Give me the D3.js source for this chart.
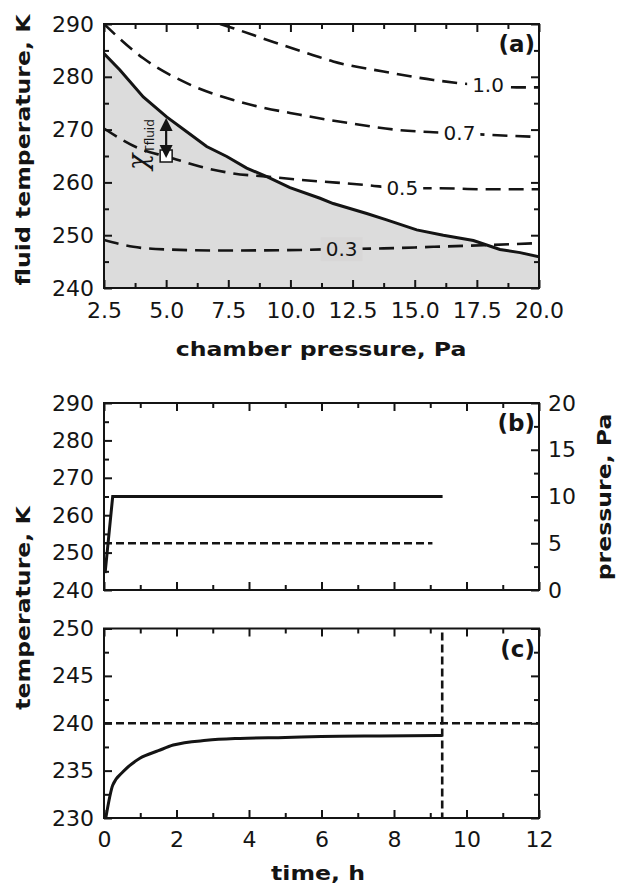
<!DOCTYPE html>
<html><head><meta charset="utf-8">
<script src="https://cdn.jsdelivr.net/npm/d3@7"></script>
<style>body{margin:0;background:#fff}svg{display:block}</style>
</head><body>
<svg id="chart" width="621" height="893"></svg>
<script>
// ---------------- DATA ----------------
// Panel (a): design space, chamber pressure (Pa) vs fluid temperature (K)
const boundaryP = [2.5,3.14,4.08,5.02,5.83,6.63,7.44,8.24,9.05,9.98,11.19,11.72,13.07,13.87,15.08,16.15,17.36,18.43,19.24,20];
const boundaryT = [284.4,281.3,276.2,272.4,269.6,266.8,264.9,262.7,261.1,259.0,257.0,256.0,254.1,252.9,251.0,250.0,249.0,247.3,246.7,245.9];
const contourNames = ["1.0","0.7","0.5","0.3"];
const c10P = [7.17,7.7,9.31,10.92,11.72,13.74,15.75,17.95,19.1,20];
const c10T = [290,289.2,286.6,284.1,282.9,281.0,279.4,278.3,278.0,278.0];
const c07P = [2.5,4.08,5.83,7.7,10.39,12.4,14.4,15.75,16.8,18.03,20];
const c07T = [290,283.5,278.8,275.6,272.8,271.2,269.9,269.5,269.3,269.0,268.6];
const c05P = [2.5,4.08,5.02,6.36,7.7,9.05,10.39,13.07,14.5,16,17.75,20];
const c05T = [270.2,266.1,264.9,263.0,261.7,261.1,260.5,259.5,258.9,258.9,258.7,258.7];
const c03P = [2.5,3.68,5.02,7.03,10.39,12.06,13.74,15.75,17.76,20];
const c03T = [249.1,247.8,247.3,247.1,247.2,247.4,247.5,247.8,248.1,248.5];
const contourLabelP = [17.95,16.8,14.5,12.06];
const contourLabelT = [278.4,269.3,258.9,247.4];
const chiP = 5.0, chiTopT = 272.2, chiBottomT = 265.0;
const opPointP = 5.0, opPointT = 265.0;
const ticksPA = [2.5,5,7.5,10,12.5,15,17.5,20];
const ticksTA = [240,250,260,270,280,290];

// Panel (b): fluid temperature (K, solid) and chamber pressure (Pa, dashed) vs time (h)
const fluidTime = [0.03,0.24,9.34];
const fluidTemp = [244.5,265,265];
const pressTime = [0,9.06];
const pressVal = [5,5];
const ticksTB = [240,250,260,270,280,290];
const ticksPB = [0,5,10,15,20];

// Panel (c): product temperature (K) vs time (h)
const prodTime = [0.05,0.24,0.53,0.99,1.5,1.91,2.83,3.75,5,6,7.6,9.34];
const prodTemp = [230,233.45,234.9,236.3,237.1,237.7,238.2,238.4,238.5,238.6,238.66,238.7];
const critTemp = 240;
const dryingEnd = 9.33;
const ticksTC = [230,235,240,245,250];
const ticksTime = [0,2,4,6,8,10,12];

// ---------------- DRAWING ----------------
const svg = d3.select("#chart");
const FONT = "'DejaVu Sans', Verdana, sans-serif";
const INK = "#141414";
const GRAY = "#dcdcdc";
const L = 104, R = 539, W = R - L;

function mids(arr){ const m=[]; for(let i=0;i<arr.length-1;i++) m.push((arr[i]+arr[i+1])/2); return m; }

function axes(g, xs, ys, h, o){
  const add = (axis, tr) => {
    const a = g.append("g").attr("transform", tr).call(axis);
    a.select(".domain").remove();
    a.selectAll("line").attr("stroke", INK).attr("stroke-width", 2);
    a.selectAll("text").style("font", `22px ${FONT}`).attr("fill", INK);
    return a;
  };
  const xMinor = mids(o.xMajor), yMinor = mids(o.yMajor);
  add(d3.axisBottom(xs).tickValues(o.xMajor).tickSize(-8).tickPadding(o.xPad||14)
      .tickFormat(o.xFmt ? o.xFmt : ""), `translate(0,${h})`);
  add(d3.axisBottom(xs).tickValues(xMinor).tickSize(-5).tickFormat(""), `translate(0,${h})`);
  add(d3.axisTop(xs).tickValues(o.xMajor).tickSize(-8).tickFormat(""), "translate(0,0)");
  add(d3.axisTop(xs).tickValues(xMinor).tickSize(-5).tickFormat(""), "translate(0,0)");
  add(d3.axisLeft(ys).tickValues(o.yMajor).tickSize(-8).tickPadding(10).tickFormat(d3.format("d")), "translate(0,0)");
  add(d3.axisLeft(ys).tickValues(yMinor).tickSize(-5).tickFormat(""), "translate(0,0)");
  const yr = o.yR || ys, rMaj = o.yRMajor || o.yMajor;
  add(d3.axisRight(yr).tickValues(rMaj).tickSize(-8).tickPadding(9)
      .tickFormat(o.yR ? d3.format("d") : ""), `translate(${W},0)`);
  add(d3.axisRight(yr).tickValues(mids(rMaj)).tickSize(-5).tickFormat(""), `translate(${W},0)`);
  g.append("rect").attr("width", W).attr("height", h).attr("fill", "none")
    .attr("stroke", INK).attr("stroke-width", 2);
}

function title(x, y, str, rot){
  svg.append("text")
    .attr("transform", `translate(${x},${y}) rotate(${rot}) scale(1.18,1)`)
    .attr("text-anchor", "middle").attr("fill", INK)
    .style("font", `bold 20px ${FONT}`).text(str);
}
function panelTag(g, str){
  g.append("text").attr("x", W - 4).attr("y", 28).attr("text-anchor", "end")
    .attr("fill", INK).style("font", `bold 23px ${FONT}`).text(str);
}
function clipFor(id, h){
  svg.append("defs").append("clipPath").attr("id", id)
    .append("rect").attr("width", W).attr("height", h);
}

// ---------- Panel (a) ----------
const topA = 24, hA = 264;
const gA = svg.append("g").attr("transform", `translate(${L},${topA})`);
clipFor("clipA", hA);
const xA = d3.scaleLinear([2.5, 20], [0, W]);
const yA = d3.scaleLinear([240, 290], [hA, 0]);
const pA = gA.append("g").attr("clip-path", "url(#clipA)");
const boundary = boundaryP.map((p, i) => [p, boundaryT[i]]);
pA.append("path").datum(boundary)
  .attr("d", d3.area().x(d => xA(d[0])).y0(hA).y1(d => yA(d[1])))
  .attr("fill", GRAY);
const lineA = d3.line().x(d => xA(d[0])).y(d => yA(d[1])).curve(d3.curveMonotoneX);
const contours = [[c10P, c10T], [c07P, c07T], [c05P, c05T], [c03P, c03T]];
contours.forEach(([ps, ts]) => {
  pA.append("path").datum(ps.map((p, i) => [p, ts[i]]))
    .attr("d", lineA).attr("fill", "none").attr("stroke", INK)
    .attr("stroke-width", 2.6).attr("stroke-dasharray", "15,8");
});
pA.append("path").datum(boundary)
  .attr("d", d3.line().x(d => xA(d[0])).y(d => yA(d[1])))
  .attr("fill", "none").attr("stroke", INK).attr("stroke-width", 3);
const boundaryAt = p => {
  const i = d3.bisectLeft(boundaryP, p);
  if (i <= 0) return boundaryT[0];
  const t = (p - boundaryP[i-1]) / (boundaryP[i] - boundaryP[i-1]);
  return boundaryT[i-1] + t * (boundaryT[i] - boundaryT[i-1]);
};
contourNames.forEach((name, i) => {
  const cx = xA(contourLabelP[i]), cy = yA(contourLabelT[i]);
  const lg = pA.append("g");
  const r = lg.append("rect");
  const t = lg.append("text").attr("x", cx).attr("y", cy).attr("dy", "0.36em")
    .attr("text-anchor", "middle").attr("fill", INK)
    .style("font", `20px ${FONT}`).text(name);
  const bb = t.node().getBBox();
  const below = contourLabelT[i] < boundaryAt(contourLabelP[i]);
  r.attr("x", bb.x - 5).attr("y", bb.y).attr("width", bb.width + 10).attr("height", bb.height)
    .attr("fill", below ? "#d8d7d7" : "#fff");
});
// operating point + arrow
const ax = xA(chiP);
gA.append("rect").attr("x", xA(opPointP) - 6).attr("y", yA(opPointT) - 6)
  .attr("width", 12).attr("height", 12).attr("fill", "#fff")
  .attr("stroke", INK).attr("stroke-width", 1.5);
const yTop = yA(chiTopT), yBot = yA(chiBottomT) + 2;
gA.append("line").attr("x1", ax).attr("x2", ax).attr("y1", yTop + 10).attr("y2", yBot - 10)
  .attr("stroke", INK).attr("stroke-width", 2.2);
gA.append("path").attr("d", `M${ax},${yTop} L${ax-6.5},${yTop+13} L${ax+6.5},${yTop+13} Z`).attr("fill", INK);
gA.append("path").attr("d", `M${ax},${yBot} L${ax-6.5},${yBot-13} L${ax+6.5},${yBot-13} Z`).attr("fill", INK);
const chi = gA.append("text")
  .attr("transform", `translate(${ax - 19},${yA(opPointT) + 14}) rotate(-90)`)
  .attr("fill", INK);
chi.append("tspan").style("font", `italic 27px 'DejaVu Serif', serif`).text("χ");
chi.append("tspan").attr("dy", 7).attr("dx", 1).style("font", `12px ${FONT}`).text("Tfluid");
axes(gA, xA, yA, hA, {xMajor: ticksPA, yMajor: ticksTA, xFmt: d3.format(".1f"), xPad: 14.5});
panelTag(gA, "(a)");
title(30, 150, "fluid temperature, K", -90);
title(321, 356, "chamber pressure, Pa", 0);

// ---------- Panel (b) ----------
const topB = 403, hB = 187;
const gB = svg.append("g").attr("transform", `translate(${L},${topB})`);
clipFor("clipB", hB);
const xB = d3.scaleLinear([0, 12], [0, W]);
const yB = d3.scaleLinear([240, 290], [hB, 0]);
const yBR = d3.scaleLinear([0, 20], [hB, 0]);
const pB = gB.append("g").attr("clip-path", "url(#clipB)");
pB.append("path").datum(pressTime.map((t, i) => [t, pressVal[i]]))
  .attr("d", d3.line().x(d => xB(d[0])).y(d => yBR(d[1])))
  .attr("fill", "none").attr("stroke", INK).attr("stroke-width", 2.6).attr("stroke-dasharray", "8,4");
pB.append("path").datum(fluidTime.map((t, i) => [t, fluidTemp[i]]))
  .attr("d", d3.line().x(d => xB(d[0])).y(d => yB(d[1])))
  .attr("fill", "none").attr("stroke", INK).attr("stroke-width", 3);
axes(gB, xB, yB, hB, {xMajor: ticksTime, yMajor: ticksTB, yR: yBR, yRMajor: ticksPB});
panelTag(gB, "(b)");
title(611, 497, "pressure, Pa", -90);

// ---------- Panel (c) ----------
const topC = 628.5, hC = 189.5;
const gC = svg.append("g").attr("transform", `translate(${L},${topC})`);
clipFor("clipC", hC);
const xC = d3.scaleLinear([0, 12], [0, W]);
const yC = d3.scaleLinear([230, 250], [hC, 0]);
const pC = gC.append("g").attr("clip-path", "url(#clipC)");
pC.append("line").attr("x1", xC(0)).attr("x2", xC(12)).attr("y1", yC(critTemp)).attr("y2", yC(critTemp))
  .attr("stroke", INK).attr("stroke-width", 2.6).attr("stroke-dasharray", "8,4");
pC.append("line").attr("x1", xC(dryingEnd)).attr("x2", xC(dryingEnd)).attr("y1", 4).attr("y2", hC)
  .attr("stroke", INK).attr("stroke-width", 2.6).attr("stroke-dasharray", "8,4");
pC.append("path").datum(prodTime.map((t, i) => [t, prodTemp[i]]))
  .attr("d", d3.line().x(d => xC(d[0])).y(d => yC(d[1])).curve(d3.curveMonotoneX))
  .attr("fill", "none").attr("stroke", INK).attr("stroke-width", 3);
axes(gC, xC, yC, hC, {xMajor: ticksTime, yMajor: ticksTC, xFmt: d3.format("d"), xPad: 13});
panelTag(gC, "(c)");
title(30, 608, "temperature, K", -90);
title(318, 880, "time, h", 0);
</script>
</body></html>
